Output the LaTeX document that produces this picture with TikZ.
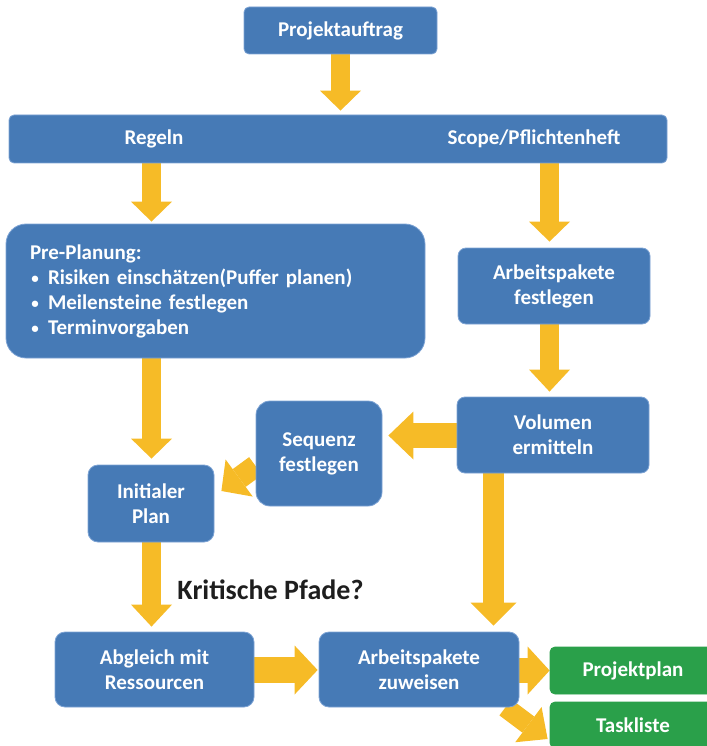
\documentclass[tikz,border=0pt]{standalone}
\usepackage{fontspec}
\setmainfont{Carlito}
\usetikzlibrary{arrows.meta}
\pgfdeclarelayer{background}
\pgfsetlayers{background,main}
\definecolor{boxblue}{RGB}{70,122,182}
\definecolor{boxedge}{RGB}{125,163,212}
\definecolor{taskgreen}{RGB}{42,160,74}
\definecolor{flowyellow}{RGB}{246,187,39}
\definecolor{notetext}{RGB}{30,30,30}
\newcommand\listdot{\makebox[18pt][l]{\hspace{1.5pt}\raisebox{1pt}{\fontsize{15}{15}\selectfont •}}}

\begin{document}
\begin{tikzpicture}[x=1pt,y=-1pt,
  box/.style={fill=boxblue, draw=boxedge, line width=0.8pt, rounded corners=#1,
    text=white, font=\bfseries\fontsize{21}{25}\selectfont, align=center, inner sep=0pt},
  box/.default=8pt,
  donebox/.style={box=5pt, fill=taskgreen, draw=taskgreen},
  txt/.style={text=white, font=\bfseries\fontsize{21}{25}\selectfont, inner sep=0pt},
  flow/.style n args={3}{draw=flowyellow, line width=#1, line cap=butt,
    -{Triangle[width=#2,length=#3,line width=0pt]}}
]
\useasboundingbox (0,0) rectangle (706,746);

% boxes
\node[box=5pt, minimum width=193pt, minimum height=47pt] (auftrag) at (340.5,30.5) {Projektauftrag};
\node[box=5pt, minimum width=658pt, minimum height=48pt] (bar) at (338,139) {};
\node[txt] (regeln) at (154,139) {Regeln};
\node[txt] (scope) at (534,139) {Scope/Pflichtenheft};
\node[box=20pt, minimum width=419pt, minimum height=134pt, text width=371pt,
      align=left, inner xsep=24pt] (pre) at (215.5,291)
  {Pre-Planung:\\
   \listdot Risiken einschätzen(Puffer planen)\\
   \listdot Meilensteine festlegen\\
   \listdot Terminvorgaben};
\node[box, minimum width=192pt, minimum height=76pt] (pkfest) at (554,286) {Arbeitspakete\\festlegen};
\node[box, minimum width=192pt, minimum height=76pt] (volumen) at (553,435) {Volumen\\ermitteln};
\node[box=14pt, minimum width=126pt, minimum height=105pt] (sequenz) at (319,453.5) {Sequenz\\festlegen};
\node[box=10pt, minimum width=126pt, minimum height=77pt] (initialer) at (151,503.5) {Initialer\\Plan};
\node[box=10pt, minimum width=199pt, minimum height=75pt] (abgleich) at (154.5,669.5) {Abgleich mit\\Ressourcen};
\node[box=10pt, minimum width=200pt, minimum height=75pt] (zuweisen) at (419,669.5) {Arbeitspakete\\zuweisen};
\node[donebox, minimum width=166pt, minimum height=47pt] (projektplan) at (633,670.5) {Projektplan};
\node[donebox, minimum width=166pt, minimum height=46pt] (taskliste) at (633,725) {Taskliste};

\node[font=\bfseries\fontsize{28}{32}\selectfont, text=notetext] (kritisch) at (270.5,590) {Kritische Pfade?};

% reference lines for the arrows
\coordinate (colL) at (151.5,0);
\coordinate (colR) at (549.5,0);
\coordinate (colV) at (493.5,0);
\coordinate (rowS) at (0,435.5);
\coordinate (rowA) at (0,670);

% yellow block arrows
\begin{pgfonlayer}{background}
\draw[flow={19pt}{41pt}{20pt}, shorten >=4pt] (auftrag.south) -- (bar.north -| auftrag.south);
\draw[flow={19pt}{41pt}{20pt}, shorten >=2pt] (bar.south -| colL) -- (pre.north -| colL);
\draw[flow={19pt}{41pt}{20pt}, shorten >=6pt] (bar.south -| colR) -- (pkfest.north -| colR);
\draw[flow={19pt}{41pt}{22pt}, shorten >=5pt] (pkfest.south -| colR) -- (volumen.north -| colR);
\draw[flow={19pt}{41pt}{20pt}, shorten >=6pt] (pre.south -| colL) -- (initialer.north -| colL);
\draw[flow={19pt}{41pt}{22pt}, shorten >=5pt] (initialer.south -| colL) -- (abgleich.north -| colL);
\draw[flow={21pt}{46pt}{23pt}, shorten >=6pt] (volumen.south -| colV) -- (zuweisen.north -| colV);
\draw[flow={25pt}{48pt}{25pt}, shorten >=6pt] (volumen.west |- rowS) -- (sequenz.east |- rowS);
\draw[flow={22pt}{46pt}{22pt}] ([yshift=-12.5pt]sequenz.west) -- ([shift={(7pt,12.5pt)}]initialer.east);
\draw[flow={26pt}{49pt}{23pt}, shorten >=1pt] (abgleich.east |- rowA) -- (zuweisen.west |- rowA);
\draw[flow={25pt}{48pt}{22pt}] (zuweisen.east |- projektplan.west) -- (projektplan.west);
\draw[flow={20pt}{44pt}{24pt}] ([xshift=-14pt]zuweisen.south east) -- ([shift={(-2pt,-14pt)}]taskliste.west);
\end{pgfonlayer}
\end{tikzpicture}
\end{document}
